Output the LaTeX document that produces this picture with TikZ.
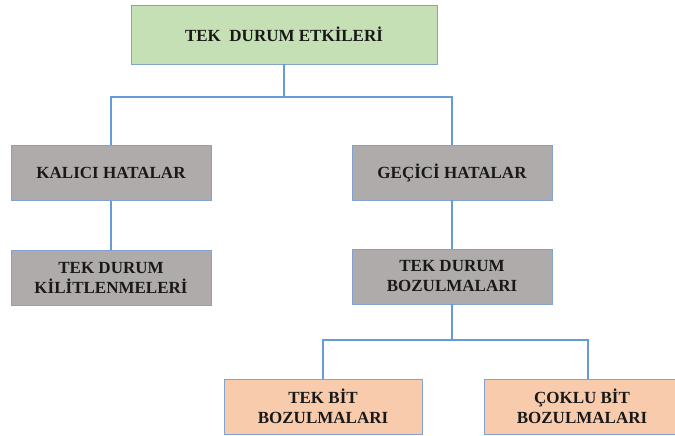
\documentclass[tikz,border=0pt]{standalone}
\usepackage{fontspec}
\setmainfont{Liberation Serif}
\definecolor{linkblue}{RGB}{104,154,214}
\definecolor{edgeblue}{RGB}{130,162,210}
\definecolor{topgreen}{RGB}{197,224,180}
\definecolor{midgray}{RGB}{175,171,171}
\definecolor{leafpeach}{RGB}{248,203,173}
\tikzset{
  box/.style={draw=edgeblue, line width=0.9pt, minimum height=55pt,
    align=center, inner sep=2pt,
    font=\fontsize{17}{20}\selectfont\bfseries, text=black!90},
  rootbox/.style={box, fill=topgreen, minimum width=306pt, minimum height=59pt},
  graybox/.style={box, fill=midgray, minimum width=200pt},
  peachbox/.style={box, fill=leafpeach, minimum width=198pt},
  link/.style={draw=linkblue, line width=1.1pt}
}
\begin{document}
\begin{tikzpicture}[x=1pt,y=-1pt]
  \useasboundingbox (0,0) rectangle (675,436);
  \clip (0,0) rectangle (675,436);
  \node[rootbox] (root) at (284,34.5) {TEK\ \ DURUM ETKİLERİ};
  \node[graybox] (perm) at (111,173) {KALICI HATALAR};
  \node[graybox] (trans) at (452,172.5) {GEÇİCİ HATALAR};
  \node[graybox] (latch) at (111,277.5) {TEK DURUM\\KİLİTLENMELERİ};
  \node[graybox] (upset) at (452,276.5) {TEK DURUM\\BOZULMALARI};
  \node[peachbox] (single) at (323,406.5) {TEK BİT\\BOZULMALARI};
  \node[peachbox, minimum width=196pt] (multi) at (582,406.5) {ÇOKLU BİT\\BOZULMALARI};

  \coordinate (busA) at (0,97);
  \coordinate (busB) at (0,340);
  \coordinate (multiIn) at (588,0);
  \draw[link] (root.south) -- (root.south |- busA) -| (perm.north);
  \draw[link] (root.south |- busA) -| (trans.north);
  \draw[link] (perm.south) -- (latch.north);
  \draw[link] (trans.south) -- (upset.north);
  \draw[link] (upset.south) -- (upset.south |- busB) -| (single.north);
  \draw[link] (upset.south |- busB) -| (multiIn |- multi.north);
\end{tikzpicture}
\end{document}
